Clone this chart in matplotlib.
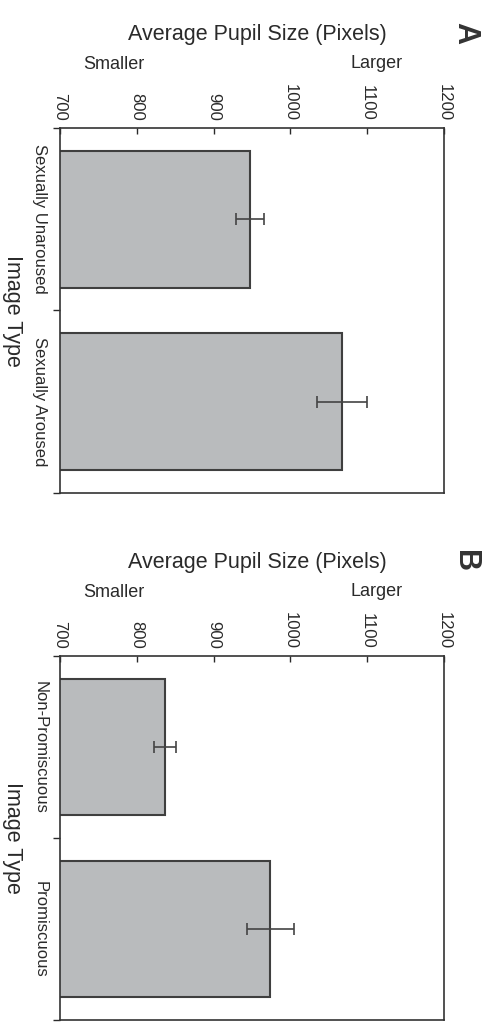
import matplotlib
matplotlib.use("Agg")
import matplotlib.pyplot as plt

plt.rcParams['font.family'] = ['Liberation Sans', 'DejaVu Sans']

W, H = 489, 1022

value_ticks = [700, 800, 900, 1000, 1100, 1200]

cats_a = ['Sexually Unaroused', 'Sexually Aroused']
means_a = [947, 1067]
errs_a = [18, 33]

cats_b = ['Non-Promiscuous', 'Promiscuous']
means_b = [837, 974]
errs_b = [14, 31]

panel_letters = ['A', 'B']
value_label = 'Average Pupil Size (Pixels)'
category_label = 'Image Type'

bar_color = '#b9bbbd'
edge_color = '#3f3f3f'
text_color = '#2a2a2a'

fig = plt.figure(figsize=(W / 100, H / 100), dpi=100)

def px(x, y):
    return x / W, 1 - y / H

panels = [
    (cats_a, means_a, errs_a, 128, 493, 0),
    (cats_b, means_b, errs_b, 656, 1020, 528),
]

for i, (cats, means, errs, top, bot, off) in enumerate(panels):
    left, right = 60, 444
    ax = fig.add_axes([left / W, 1 - bot / H, (right - left) / W, (bot - top) / H])
    pos = list(range(len(cats)))
    ax.barh(pos, means, height=0.75, left=0, color=bar_color,
            edgecolor=edge_color, linewidth=1.5, zorder=2)
    ax.errorbar(means, pos, xerr=errs, fmt='none', ecolor='#444444',
                elinewidth=1.2, capsize=4, capthick=1.2, zorder=3)
    ax.set_xlim(value_ticks[0], value_ticks[-1])
    ax.set_ylim(len(cats) - 0.5, -0.5)
    ax.xaxis.tick_top()
    ax.set_xticks(value_ticks)
    ax.set_xticklabels([str(v) for v in value_ticks])
    ax.tick_params(axis='x', top=True, bottom=False, labeltop=True, labelbottom=False,
                   direction='in', length=4, width=1, pad=5, labelrotation=-90,
                   labelsize=12, colors=text_color)
    ax.set_yticks(pos)
    ax.set_yticklabels(cats)
    ax.set_yticks([p - 0.5 for p in pos] + [len(cats) - 0.5], minor=True)
    ax.tick_params(axis='y', which='major', length=0, pad=9, labelsize=12,
                   labelcolor=text_color)
    for lab in ax.get_yticklabels():
        lab.set_rotation(-90)
        lab.set_va('center')
        lab.set_ha('right')
    ax.tick_params(axis='y', which='minor', direction='out', length=5, width=1,
                   color=text_color)
    for s in ax.spines.values():
        s.set_color('#333333')
        s.set_linewidth(1.2)
    ax.set_ylabel(category_label, rotation=-90, fontsize=15.5, color=text_color,
                  ha='center', va='center')
    ax.yaxis.set_label_coords((12 - left) / (right - left), 0.5)

    fig.text(*px(257, 40 + off), value_label, ha='center', va='baseline',
             fontsize=15.5, color=text_color)
    fig.text(*px(114, 69 + off), 'Smaller', ha='center', va='baseline',
             fontsize=13, color=text_color)
    fig.text(*px(377, 68 + off), 'Larger', ha='center', va='baseline',
             fontsize=13, color=text_color)
    fig.text(*px(465, 33 + off), panel_letters[i], ha='center', va='center',
             rotation=-90, fontsize=22, fontweight='bold', color='#333333')

fig.savefig('out.png', dpi=100)
